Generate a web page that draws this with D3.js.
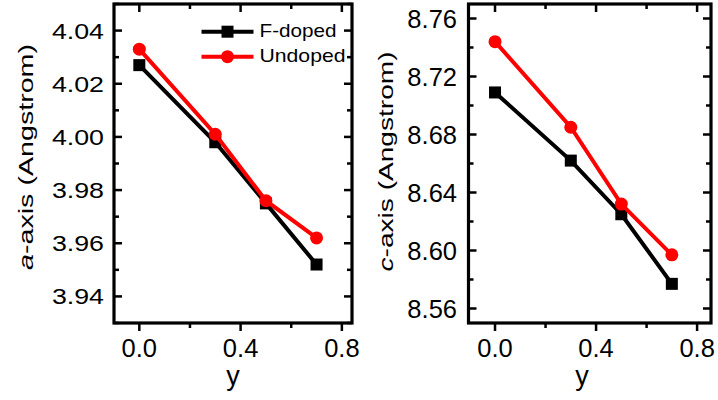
<!DOCTYPE html>
<html>
<head>
<meta charset="utf-8">
<script src="https://cdn.jsdelivr.net/npm/d3@7"></script>
<style>
  html, body { margin: 0; padding: 0; background: #fff; }
  svg { display: block; }
  text { font-family: "Liberation Sans", Arial, sans-serif; fill: #000; }
</style>
</head>
<body>
<svg id="chart" width="718" height="400"></svg>
<script>
// ---- data ----
const yComposition = [0.0, 0.3, 0.5, 0.7];
const aFdoped  = [4.027, 3.998, 3.975, 3.952];
const aUndoped = [4.033, 4.001, 3.976, 3.962];
const cFdoped  = [8.709, 8.662, 8.625, 8.577];
const cUndoped = [8.744, 8.685, 8.632, 8.597];
const xMajorTicks = [0.0, 0.4, 0.8];
const xMinorTicks = [0.2, 0.6];
const aMajorTicks = [3.94, 3.96, 3.98, 4.00, 4.02, 4.04];
const aMinorTicks = [3.93, 3.95, 3.97, 3.99, 4.01, 4.03, 4.05];
const cMajorTicks = [8.56, 8.60, 8.64, 8.68, 8.72, 8.76];
const cMinorTicks = [8.58, 8.62, 8.66, 8.70, 8.74];
const seriesNames = ["F-doped", "Undoped"];
const seriesColors = ["#000000", "#ff0000"];

const svg = d3.select("#chart");

function panel(cfg) {
  const g = svg.append("g");
  const x = d3.scaleLinear().domain(cfg.xDomain).range([cfg.left, cfg.right]);
  const y = d3.scaleLinear().domain(cfg.yDomain).range([cfg.bottom, cfg.top]);

  // series lines & markers
  const lineGen = d3.line().x((d, i) => x(yComposition[i])).y(d => y(d));
  cfg.series.forEach((vals, si) => {
    g.append("path").datum(vals)
      .attr("d", lineGen)
      .attr("fill", "none")
      .attr("stroke", seriesColors[si])
      .attr("stroke-width", 4)
      .attr("stroke-linejoin", "miter");
    if (si === 0) {
      g.selectAll(null).data(vals).enter().append("rect")
        .attr("x", (d, i) => x(yComposition[i]) - 6)
        .attr("y", d => y(d) - 6)
        .attr("width", 12).attr("height", 12)
        .attr("fill", seriesColors[si]);
    } else {
      g.selectAll(null).data(vals).enter().append("circle")
        .attr("cx", (d, i) => x(yComposition[i]))
        .attr("cy", d => y(d))
        .attr("r", 6.5)
        .attr("fill", seriesColors[si]);
    }
  });

  // ticks
  const tk = g.append("g").attr("stroke", "#000").attr("stroke-width", 2.5);
  const addX = (vals, len) => vals.forEach(v => {
    tk.append("line").attr("x1", x(v)).attr("x2", x(v)).attr("y1", cfg.bottom).attr("y2", cfg.bottom + len);
    tk.append("line").attr("x1", x(v)).attr("x2", x(v)).attr("y1", cfg.top).attr("y2", cfg.top + len);
  });
  const addY = (vals, len) => vals.forEach(v => {
    tk.append("line").attr("y1", y(v)).attr("y2", y(v)).attr("x1", cfg.left).attr("x2", cfg.left + len);
    tk.append("line").attr("y1", y(v)).attr("y2", y(v)).attr("x1", cfg.right).attr("x2", cfg.right - len);
  });
  addX(xMajorTicks, 8); addX(xMinorTicks, 5);
  addY(cfg.yMajor, 8); addY(cfg.yMinor, 5);

  // frame
  g.append("rect")
    .attr("x", cfg.left).attr("y", cfg.top)
    .attr("width", cfg.right - cfg.left).attr("height", cfg.bottom - cfg.top)
    .attr("fill", "none").attr("stroke", "#000").attr("stroke-width", 3.2);

  // x tick labels
  xMajorTicks.forEach(v => {
    g.append("text").attr("x", x(v)).attr("y", 356.5)
      .attr("text-anchor", "middle").attr("font-size", 25.5)
      .text(d3.format(".1f")(v));
  });
  // y tick labels
  cfg.yMajor.forEach(v => {
    g.append("text")
      .attr("transform", `translate(${cfg.yLabelX},${y(v) + cfg.yLabelDy}) scale(${cfg.yLabelSx},1)`)
      .attr("text-anchor", "end").attr("font-size", cfg.yLabelSize)
      .text(d3.format(".2f")(v));
  });
  // x title
  g.append("text").attr("x", cfg.xTitleX).attr("y", 385)
    .attr("text-anchor", "middle").attr("font-size", 27).text("y");
  // y title
  const t = g.append("text")
    .attr("transform", `translate(${cfg.yTitleX},${cfg.yTitleY}) rotate(-90)`)
    .attr("text-anchor", "middle").attr("font-size", 21)
    .attr("textLength", cfg.yTitleLen).attr("lengthAdjust", "spacingAndGlyphs");
  t.append("tspan").attr("font-style", "italic").text(cfg.letter);
  t.append("tspan").text("-axis (Angstrom)");
  return g;
}

panel({
  left: 114, right: 352, top: 4, bottom: 323,
  xDomain: [-0.1, 0.84], yDomain: [3.93, 4.05],
  series: [aFdoped, aUndoped],
  yMajor: aMajorTicks, yMinor: aMinorTicks,
  yLabelX: 104, yLabelDy: 8, yLabelSx: 1.18, yLabelSize: 22.7,
  xTitleX: 233, yTitleX: 33, yTitleY: 157, yTitleLen: 226, letter: "a"
});
panel({
  left: 468.5, right: 711, top: 4, bottom: 323,
  xDomain: [-0.105, 0.855], yDomain: [8.55, 8.77],
  series: [cFdoped, cUndoped],
  yMajor: cMajorTicks, yMinor: cMinorTicks,
  yLabelX: 457, yLabelDy: 9, yLabelSx: 1.0, yLabelSize: 25.5,
  xTitleX: 582, yTitleX: 392.5, yTitleY: 161.5, yTitleLen: 220, letter: "c"
});

// legend (left panel)
const leg = svg.append("g");
seriesNames.forEach((name, i) => {
  const ly = 31.7 + i * 25;
  leg.append("line").attr("x1", 201.5).attr("x2", 253.5).attr("y1", ly).attr("y2", ly)
    .attr("stroke", seriesColors[i]).attr("stroke-width", 4);
  if (i === 0) {
    leg.append("rect").attr("x", 227.5 - 6).attr("y", ly - 6).attr("width", 12).attr("height", 12)
      .attr("fill", seriesColors[i]);
  } else {
    leg.append("circle").attr("cx", 227.5).attr("cy", ly).attr("r", 6.5).attr("fill", seriesColors[i]);
  }
  leg.append("text").attr("x", 259.5).attr("y", ly + 5)
    .attr("font-size", 17.7)
    .attr("textLength", i === 0 ? 77 : 86).attr("lengthAdjust", "spacingAndGlyphs")
    .text(name);
});
</script>
</body>
</html>
